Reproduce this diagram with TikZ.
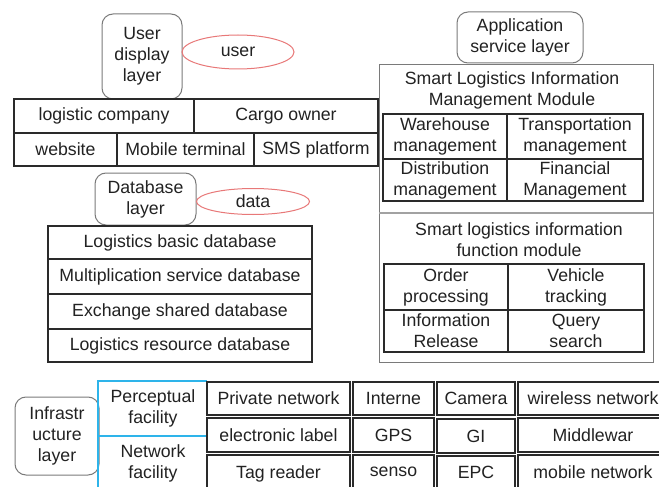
\documentclass[tikz,border=0pt]{standalone}
\usepackage{fontspec}
\setmainfont{Liberation Sans}
\usetikzlibrary{shapes.geometric}
\definecolor{txt}{HTML}{222222}
\definecolor{edge}{HTML}{2A2A2A}
\definecolor{soft}{HTML}{7A7A7A}
\definecolor{redl}{HTML}{E87878}
\definecolor{bluel}{HTML}{2EB4EA}
\newcommand\lab{\fontsize{17.7}{21}\selectfont}
\newcommand\mkcell[6]{\node[cell, minimum width={(#4-#2)*1pt}, minimum height={(#5-#3)*1pt}] (#1) at ({(#2+#4)/2},{(#3+#5)/2}) {#6};}
\newcommand\mklayer[6]{\node[layerbox, minimum width={(#4-#2)*1pt}, minimum height={(#5-#3)*1pt}] (#1) at ({(#2+#4)/2},{(#3+#5)/2}) {#6};}
\begin{document}
\begin{tikzpicture}[x=1pt,y=-1pt,
  cell/.style={draw=edge, line width=1.4pt, inner sep=0pt, align=center, font=\lab, text=txt},
  layerbox/.style={draw=soft, line width=1pt, rounded corners=11pt, inner sep=0pt, align=center, font=\lab, text=txt},
  tag/.style={ellipse, draw=redl, line width=1pt, inner sep=0pt, font=\lab, text=txt},
  plain/.style={inner sep=0pt, align=center, font=\lab, text=txt},
  blueline/.style={draw=bluel, line width=1.6pt}]
\useasboundingbox (0,0) rectangle (659,487);
\clip (0,0) rectangle (659,487);
\fill[white] (0,0) rectangle (659,487);

% ---------- User display layer ----------
\mklayer{udl}{102}{14}{182}{99}{User\\display\\layer}
\node[tag, minimum width=112pt, minimum height=34pt] (user) at (238,52) {user};
\mkcell{lc}{14}{99}{194}{133}{logistic company}
\mkcell{co}{194}{99}{378}{133}{Cargo owner}
\mkcell{ws}{14}{133}{117}{166}{website}
\mkcell{mt}{117}{133}{254}{166}{Mobile terminal}
\mkcell{sms}{254}{133}{378}{166}{SMS platform}

% ---------- Database layer ----------
\mklayer{dbl}{95}{173}{196}{225}{Database\\layer}
\node[tag, minimum width=113pt, minimum height=26pt] (data) at (253,201.5) {data};
\mkcell{db1}{48}{226}{312}{259}{Logistics basic database}
\mkcell{db2}{48}{259}{312}{294}{Multiplication service database}
\mkcell{db3}{48}{294}{312}{329}{Exchange shared database}
\mkcell{db4}{48}{329}{312}{362}{Logistics resource database}

% ---------- Application service layer ----------
\mklayer{asl}{457}{12}{583}{63}{Application\\service layer}
\node[draw=soft, line width=1pt, minimum width=274pt, minimum height=297pt, inner sep=0pt] (app) at (516,213.5) {};
\coordinate (divL) at (379,213);
\coordinate (divR) at (653,213);
\draw[draw=soft!70, line width=2pt] (divL) -- (divR);
\node[plain] (mgt) at (512,90) {Smart Logistics Information\\Management Module};
\mkcell{wm}{383}{114}{507}{159}{Warehouse\\management}
\mkcell{tm}{507}{114}{643}{159}{Transportation\\management}
\mkcell{dm}{383}{159}{507}{201}{Distribution\\management}
\mkcell{fm}{507}{159}{643}{201}{Financial\\Management}
\node[plain] (fun) at (519,239.5) {Smart logistics information\\function module};
\mkcell{op}{384}{264}{508}{310}{Order\\processing}
\mkcell{vt}{508}{264}{644}{310}{Vehicle\\tracking}
\mkcell{ir}{384}{310}{508}{352}{Information\\Release}
\mkcell{qs}{508}{310}{644}{352}{Query\\search}

% ---------- Infrastructure layer ----------
\mklayer{inf}{15}{397}{99}{475}{Infrastr\\ucture\\layer}
\coordinate (bA) at (98,492);
\coordinate (bB) at (98,381);
\coordinate (bC) at (207,381);
\coordinate (bD) at (98,436);
\coordinate (bE) at (207,436);
\draw[blueline] (bA) -- (bB) -- (bC);
\draw[blueline] (bD) -- (bE);
\node[plain] (pf) at (153,408.5) {Perceptual\\facility};
\node[plain] (nf) at (153,463) {Network\\facility};

\mkcell{g11}{207}{382}{350}{415}{Private network}
\mkcell{g12}{353}{382}{434}{415}{Interne}
\mkcell{g13}{437}{382}{515}{415}{Camera}
\mkcell{g14}{518}{382}{668}{415}{wireless network}
\mkcell{g21}{207}{418}{350}{452}{electronic label}
\mkcell{g22}{353}{418}{434}{452}{GPS}
\mkcell{g23}{437}{419}{515}{453}{GI}
\mkcell{g24}{518}{418}{668}{452}{Middlewar}
\mkcell{g31}{207}{455}{350}{492}{\raisebox{3pt}{Tag reader}}
\mkcell{g32}{353}{455}{434}{492}{\raisebox{3pt}{senso}}
\mkcell{g33}{437}{456}{515}{492}{\raisebox{3pt}{EPC}}
\mkcell{g34}{518}{455}{668}{492}{\raisebox{3pt}{mobile network}}
\end{tikzpicture}
\end{document}
